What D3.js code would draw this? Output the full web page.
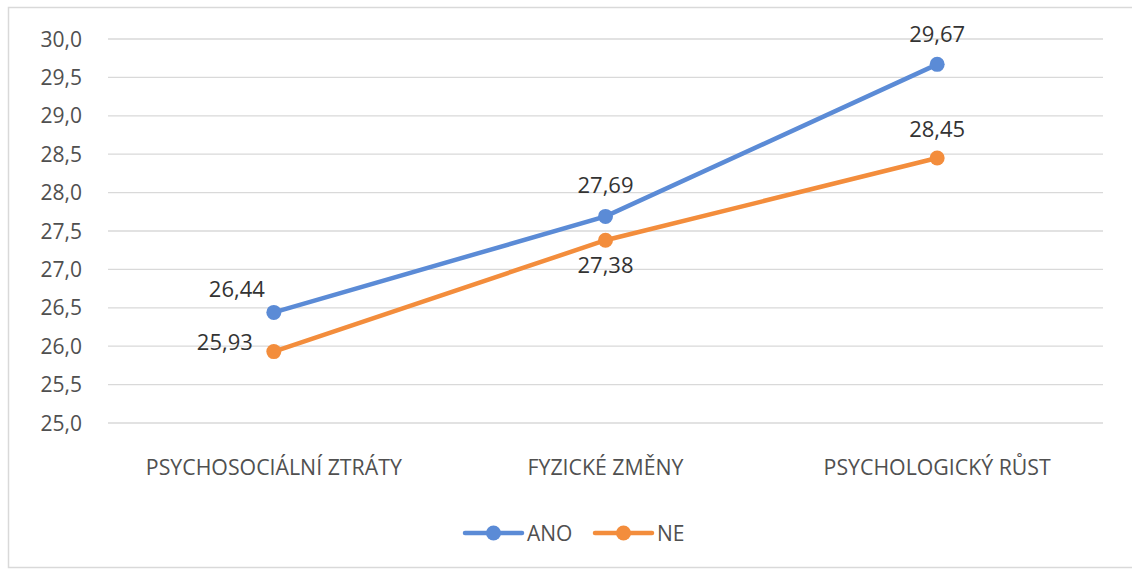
<!DOCTYPE html>
<html><head><meta charset="utf-8">
<script src="https://cdn.jsdelivr.net/npm/d3@7"></script>
<style>body{margin:0;background:#fff;} text{font-family:"Open Sans","Liberation Sans",sans-serif;}</style>
</head><body><svg id="c" width="1132" height="570"></svg>
<script>
const categories = ["PSYCHOSOCIÁLNÍ ZTRÁTY", "FYZICKÉ ZMĚNY", "PSYCHOLOGICKÝ RŮST"];
const seriesNames = ["ANO", "NE"];
const ano = [26.44, 27.69, 29.67];
const ne = [25.93, 27.38, 28.45];
const yTicks = [25.0, 25.5, 26.0, 26.5, 27.0, 27.5, 28.0, 28.5, 29.0, 29.5, 30.0];

const colors = {ANO: "#5B8BD6", NE: "#F38D3C"};
const svg = d3.select("#c");
svg.append("rect").attr("x",8.5).attr("y",7.5).attr("width",1130).attr("height",560)
  .attr("fill","none").attr("stroke","#d9d9d9").attr("stroke-width",1.5);

const x = d3.scaleBand().domain(categories).range([108,1103]);
const y = d3.scaleLinear().domain([25,30]).range([423,39]);
const fmt = v => d3.format(".1f")(v).replace(".", ",");
const fmt2 = v => d3.format(".2f")(v).replace(".", ",");

const g = svg.append("g");
g.selectAll("line.grid").data(yTicks).join("line").attr("class","grid")
  .attr("x1",108).attr("x2",1103).attr("y1",d=>y(d)).attr("y2",d=>y(d))
  .attr("stroke","#d9d9d9").attr("stroke-width",1.3);
g.selectAll("text.yt").data(yTicks).join("text").attr("class","yt")
  .attr("x",82).attr("y",d=>y(d)).attr("dy","0.36em").attr("text-anchor","end")
  .attr("font-size",21).attr("fill","#505050").text(fmt);
g.selectAll("text.xt").data(categories).join("text").attr("class","xt")
  .attr("x",d=>x(d)+x.bandwidth()/2).attr("y",475).attr("text-anchor","middle")
  .attr("font-size",21.3).attr("fill","#505050").text(d=>d);

const cx = d => x(d)+x.bandwidth()/2;
const series = [{name:"ANO", vals:ano, off:[[-37,-23],[0,-31],[0,-30]]},
                {name:"NE", vals:ne, off:[[-49,-9],[0,25],[0,-29]]}];
const line = d3.line().x((d,i)=>cx(categories[i])).y(d=>y(d));
series.forEach(s=>{
  svg.append("path").datum(s.vals).attr("d",line).attr("fill","none")
    .attr("stroke",colors[s.name]).attr("stroke-width",4.5).attr("stroke-linecap","round");
  svg.selectAll(null).data(s.vals).join("circle")
    .attr("cx",(d,i)=>cx(categories[i])).attr("cy",d=>y(d)).attr("r",7.5).attr("fill",colors[s.name]);
  svg.selectAll(null).data(s.vals).join("text")
    .attr("x",(d,i)=>cx(categories[i])+s.off[i][0]).attr("y",(d,i)=>y(d)+s.off[i][1])
    .attr("dy","0.36em").attr("text-anchor","middle").attr("font-size",22).attr("fill","#333333")
    .text(fmt2);
});

const leg = svg.append("g");
const legX = [465, 595];
seriesNames.forEach((n,i)=>{
  const lx = legX[i];
  leg.append("line").attr("x1",lx).attr("x2",lx+57).attr("y1",533).attr("y2",533)
    .attr("stroke",colors[n]).attr("stroke-width",4.5).attr("stroke-linecap","round");
  leg.append("circle").attr("cx",lx+28.5).attr("cy",533).attr("r",7.5).attr("fill",colors[n]);
  leg.append("text").attr("x",lx+62).attr("y",533).attr("dy","0.36em").attr("font-size",21)
    .attr("fill","#505050").text(n);
});
</script></body></html>
